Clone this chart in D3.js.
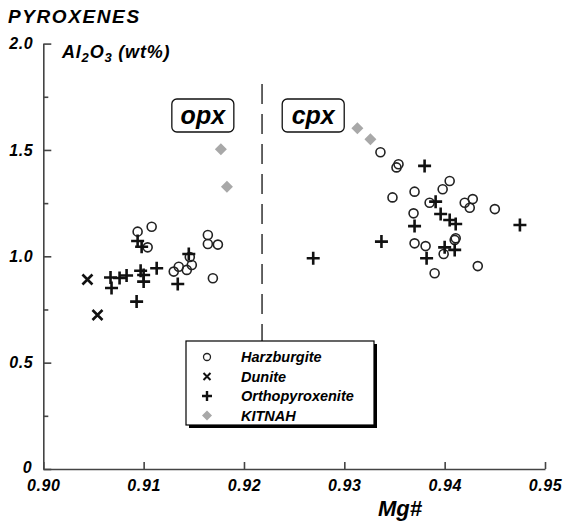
<!DOCTYPE html>
<html>
<head>
<meta charset="utf-8">
<script src="https://cdn.jsdelivr.net/npm/d3@7"></script>
<style>
  body { margin: 0; background: #fff; }
  svg text { font-family: "Liberation Sans", Arial, Helvetica, sans-serif; font-weight: bold; font-style: italic; fill: #000; }
</style>
</head>
<body>
<div id="chart"></div>
<script>
// values: [Mg#, Al2O3 wt%]
var harzburgite = [
  [0.9094, 1.116], [0.9108, 1.139], [0.9104, 1.042], [0.9130, 0.928], [0.9135, 0.951],
  [0.9143, 0.936], [0.9148, 0.959], [0.9146, 0.997], [0.9164, 1.100], [0.9164, 1.058],
  [0.9174, 1.055], [0.9169, 0.897],
  [0.9336, 1.489], [0.9352, 1.418], [0.9354, 1.433], [0.9348, 1.277], [0.9370, 1.304],
  [0.9369, 1.202], [0.9370, 1.061], [0.9405, 1.354], [0.9398, 1.315], [0.9385, 1.252],
  [0.9420, 1.252], [0.9428, 1.269], [0.9425, 1.228], [0.9450, 1.222], [0.9381, 1.048],
  [0.9410, 1.077], [0.9411, 1.085], [0.9399, 1.011], [0.9433, 0.954], [0.9390, 0.920]
];
var dunite = [[0.9044, 0.891], [0.9054, 0.724]];
var orthopyroxenite = [
  [0.9067, 0.900], [0.9068, 0.851], [0.9076, 0.898], [0.9083, 0.910], [0.9094, 1.072],
  [0.9098, 1.045], [0.9097, 0.932], [0.9100, 0.912], [0.9100, 0.881], [0.9113, 0.944],
  [0.9093, 0.787], [0.9134, 0.870], [0.9145, 1.011],
  [0.9380, 1.425], [0.9391, 1.257], [0.9396, 1.199], [0.9405, 1.171], [0.9411, 1.152],
  [0.9370, 1.142], [0.9475, 1.147], [0.9337, 1.069], [0.9269, 0.991], [0.9400, 1.042],
  [0.9410, 1.030], [0.9382, 0.991]
];
var kitnah = [[0.9177, 1.503], [0.9183, 1.327], [0.9313, 1.602], [0.9326, 1.550]];

var xTicks = [0.90, 0.91, 0.92, 0.93, 0.94, 0.95];
var yTicks = [0, 0.5, 1.0, 1.5, 2.0];
var yMinorTicks = [0.25, 0.75, 1.25, 1.75];
var legendLabels = ['Harzburgite', 'Dunite', 'Orthopyroxenite', 'KITNAH'];
var divider = 0.9218; // opx | cpx boundary

var width = 564, height = 524;
var x = d3.scaleLinear().domain([0.90, 0.95]).range([43.3, 545]);
var y = d3.scaleLinear().domain([0, 2]).range([469, 43.6]);

var svg = d3.select('#chart').append('svg')
  .attr('width', width).attr('height', height);

// axes, ticks point inward
var xAxis = svg.append('g')
  .attr('transform', 'translate(0,' + y(0) + ')')
  .call(d3.axisBottom(x).tickValues(xTicks).tickFormat(d3.format('.2f'))
    .tickSizeInner(-7).tickSizeOuter(0).tickPadding(11));
var yAxis = svg.append('g')
  .attr('transform', 'translate(' + x(0.90) + ',0)')
  .call(d3.axisLeft(y).tickValues(yTicks).tickFormat(function(d) { return d === 0 ? '0' : d3.format('.1f')(d); })
    .tickSizeInner(-8).tickSizeOuter(0).tickPadding(10));
svg.append('g')
  .attr('transform', 'translate(' + x(0.90) + ',0)')
  .call(d3.axisLeft(y).tickValues(yMinorTicks).tickFormat('').tickSizeInner(-5).tickSizeOuter(0))
  .select('.domain').remove();

[xAxis, yAxis].forEach(function(g) {
  g.selectAll('text').style('font-size', '16px').attr('fill', '#000').style('letter-spacing', '0.6px');
});
svg.selectAll('.domain, .tick line').attr('stroke', '#444').attr('stroke-width', 1.6);
yAxis.selectAll('.tick text').filter(function(d) { return d === 0; }).attr('dy', '0.2em').attr('x', -11);

// titles
svg.append('text').attr('x', 8).attr('y', 23).style('font-size', '19px')
  .style('letter-spacing', '1.6px').text('PYROXENES');

var al = svg.append('text').attr('x', 62).attr('y', 58).style('font-size', '18px').style('letter-spacing', '0.8px');
al.append('tspan').text('Al');
al.append('tspan').attr('dy', 4).style('font-size', '13px').text('2');
al.append('tspan').attr('dy', -4).text('O');
al.append('tspan').attr('dy', 4).style('font-size', '13px').text('3');
al.append('tspan').attr('dy', -4).text(' (wt%)');

svg.append('text').attr('x', 400).attr('y', 516).attr('text-anchor', 'middle')
  .style('font-size', '22px').text('Mg#');

// opx / cpx divider
svg.append('line')
  .attr('x1', x(divider)).attr('x2', x(divider))
  .attr('y1', y(1.81)).attr('y2', y(0.6))
  .attr('stroke', '#222').attr('stroke-width', 1.4).attr('stroke-dasharray', '20,10');

// opx / cpx boxes
[{t: 'opx', cx: x(0.9159)}, {t: 'cpx', cx: x(0.9269)}].forEach(function(b) {
  var w = 62, h = 33;
  svg.append('rect').attr('x', b.cx - w / 2).attr('y', 99).attr('width', w).attr('height', h)
    .attr('rx', 5).attr('fill', '#fff').attr('stroke', '#111').attr('stroke-width', 1.3);
  svg.append('text').attr('x', b.cx).attr('y', 124).attr('text-anchor', 'middle')
    .style('font-size', '25px').text(b.t);
});

// symbols
function drawCircle(g) { g.append('circle').attr('r', 4.5).attr('fill', 'none').attr('stroke', '#222').attr('stroke-width', 1.6); }
function drawCross(g) { g.append('path').attr('d', 'M-5,-5L5,5M-5,5L5,-5').attr('stroke', '#111').attr('stroke-width', 2.6); }
function drawPlus(g) { g.append('path').attr('d', 'M-6.5,0H6.5M0,-6.5V6.5').attr('stroke', '#111').attr('stroke-width', 2.6); }
function drawDiamond(g) { g.append('path').attr('d', 'M0,-6L6,0L0,6L-6,0Z').attr('fill', '#a8a8a8'); }

function plotSeries(data, draw) {
  svg.append('g').selectAll('g').data(data).enter().append('g')
    .attr('transform', function(d) { return 'translate(' + x(d[0]) + ',' + y(d[1]) + ')'; })
    .each(function() { draw(d3.select(this)); });
}
plotSeries(harzburgite, drawCircle);
plotSeries(dunite, drawCross);
plotSeries(orthopyroxenite, drawPlus);
plotSeries(kitnah, drawDiamond);

// legend with drop shadow
var lx = 186, ly = 341, lw = 188, lh = 84;
svg.append('rect').attr('x', lx + 3).attr('y', ly + 3).attr('width', lw).attr('height', lh).attr('fill', '#000');
svg.append('rect').attr('x', lx).attr('y', ly).attr('width', lw).attr('height', lh)
  .attr('fill', '#fff').attr('stroke', '#000').attr('stroke-width', 1.2);
var smallDraw = [
  function(g) { g.append('circle').attr('r', 3.5).attr('fill', 'none').attr('stroke', '#222').attr('stroke-width', 1.3); },
  function(g) { g.append('path').attr('d', 'M-3.5,-3.5L3.5,3.5M-3.5,3.5L3.5,-3.5').attr('stroke', '#111').attr('stroke-width', 2); },
  function(g) { g.append('path').attr('d', 'M-5,0H5M0,-5V5').attr('stroke', '#111').attr('stroke-width', 2.4); },
  function(g) { g.append('path').attr('d', 'M0,-5L5,0L0,5L-5,0Z').attr('fill', '#a8a8a8'); }
];
legendLabels.forEach(function(label, i) {
  var cy = ly + 16 + i * 19.5;
  var g = svg.append('g').attr('transform', 'translate(' + (lx + 21) + ',' + cy + ')');
  smallDraw[i](g);
  svg.append('text').attr('x', lx + 55).attr('y', cy + 5).style('font-size', '14.5px').text(label);
});
</script>
</body>
</html>
